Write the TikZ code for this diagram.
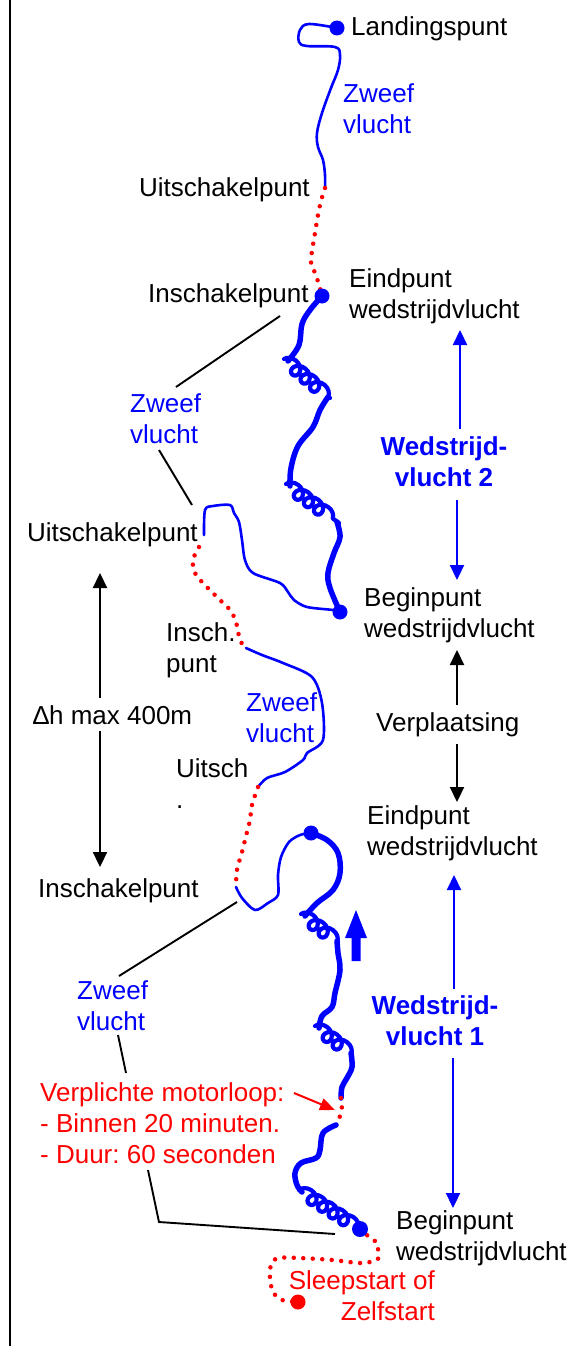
\documentclass[tikz,border=0pt]{standalone}
\usepackage{fontspec}
\setmainfont{Liberation Sans}
\usetikzlibrary{arrows.meta,decorations.pathmorphing}
\frenchspacing
\newcommand\mylinesL[1]{\begin{tabular}[t]{@{}l@{}}#1\end{tabular}}
\newcommand\mylinesC[1]{\begin{tabular}[t]{@{}c@{}}#1\end{tabular}}
\newcommand\mylinesR[1]{\begin{tabular}[t]{@{}r@{}}#1\end{tabular}}
\begin{document}
\begin{tikzpicture}[x=1pt,y=-1pt,
  lab/.style={inner sep=0pt, font=\fontsize{26}{31}\selectfont, anchor=base west},
  blab/.style={lab, text=blue},
  rlab/.style={lab, text=red},
  thinfly/.style={blue, line width=2.6pt, line cap=round, line join=round},
  fly/.style={blue, line width=5.5pt, line cap=round, line join=round},
  coilfly/.style={blue, line width=4.2pt, line cap=round, line join=round, decorate,
    decoration={coil, amplitude=6.5pt, segment length=12.5pt, aspect=1.1}},
  tow/.style={red, line width=4.5pt, line cap=round, dash pattern=on 0pt off 9.5pt},
  leader/.style={black, line width=1.9pt},
  bdot/.style={circle, fill=blue, inner sep=0pt, minimum size=15pt},
  rdot/.style={circle, fill=red, inner sep=0pt, minimum size=15pt},
  karr/.style={black, line width=2.2pt, -{Triangle[length=15pt,width=14pt]}},
  barr/.style={blue, line width=2.2pt, -{Triangle[length=15pt,width=14pt]}},
]
\useasboundingbox (0,0) rectangle (574,1346);
\draw[line width=2.5pt] (10,0) -- (10,1346);

% ---------- dots (positions) ----------
\coordinate (landc) at (337,28);
\coordinate (e2c) at (322,296);
\coordinate (b2c) at (340,612);
\coordinate (e1c) at (311,833);
\coordinate (b1c) at (360,1229);
\coordinate (startc) at (298,1302);

% ---------- top glide ----------
\coordinate (uit1) at (325,188);
\draw[thinfly] plot[smooth, tension=0.6] coordinates {(landc) (309,24) (300,30) (299,42) (307,46) (335,47) (340,55) (338,70) (331,88) (322,113) (317,133) (318,147) (323,160) (325,175) (uit1)};
\draw[tow] plot[smooth, tension=0.6] coordinates {(uit1) (320,205) (315,233) (311,262) (316,275) (e2c)};

% ---------- competition flight 2 ----------
\draw[fly] plot[smooth, tension=0.6] coordinates {(e2c) (310,310) (302,324) (299,345) (288,361)};
\draw[coilfly] (284,359) -- (330,398);
\draw[fly] plot[smooth, tension=0.6] coordinates {(328,397) (320,410) (313,427) (298,446) (291,468) (290,486)};
\draw[coilfly] (286,484) -- (339,523);
\draw[fly] plot[smooth, tension=0.6] coordinates {(337,522) (340,537) (334,553) (328,573) (330,588) (b2c)};

% ---------- middle glide ----------
\coordinate (uit2) at (204,535);
\coordinate (ins2) at (246,648);
\coordinate (uit3) at (258,787);
\coordinate (ins3) at (236,887);
\draw[thinfly] plot[smooth, tension=0.5] coordinates {(uit2) (205,510) (213,506) (230,505) (234,513) (239,522) (242,540) (245,560) (253,573) (280,583) (288,592) (294,600) (307,607) (333,610) (b2c)};
\draw[tow] plot[smooth, tension=0.6] coordinates {(199,547) (193,560) (195,573) (203,583) (220,600) (230,610) (236,622) (240,640) (ins2)};
\draw[thinfly] plot[smooth, tension=0.5] coordinates {(ins2) (262,655) (283,663) (312,677) (322,703) (323,740) (307,753) (303,760) (285,772) (267,778) (uit3)};
\draw[tow] plot[smooth, tension=0.6] coordinates {(uit3) (252,805) (250,820) (246,836) (242,852) (237,870) (ins3)};
\draw[thinfly] plot[smooth, tension=0.5] coordinates {(ins3) (242,898) (255,910) (268,903) (278,895) (278,875) (281,857) (289,842) (300,835) (e1c)};

% ---------- competition flight 1 ----------
\coordinate (mot1) at (341,1098);
\coordinate (mot2) at (336,1125);
\draw[fly] plot[smooth, tension=0.6] coordinates {(e1c) (327,840) (338,853) (340,873) (333,890) (317,903) (305,916)};
\draw[coilfly] (301,914) -- (338,942);
\draw[fly] plot[smooth, tension=0.6] coordinates {(337,941) (338,953) (340,970) (335,993) (332,1007) (322,1016) (319,1028)};
\draw[coilfly] (315,1026) -- (352,1054);
\draw[fly] plot[smooth, tension=0.6] coordinates {(351,1053) (352,1067) (347,1078) (342,1087) (mot1)};
\draw[tow] plot[smooth, tension=0.6] coordinates {(mot1) (342,1106) (340,1116) (mot2)};
\draw[fly] plot[smooth, tension=0.6] coordinates {(mot2) (323,1133) (320,1150) (316,1158) (301,1163) (295,1173) (297,1185) (302,1192)};
\draw[coilfly] (299,1190) -- (b1c);

% ---------- launch ----------
\draw[tow] plot[smooth, tension=0.5] coordinates {(b1c) (368,1236) (377,1243) (378,1252) (377,1260) (360,1263) (333,1260) (300,1258) (278,1258) (271,1265) (270,1278) (273,1292) (282,1300) (startc)};

% dots on top
\node[bdot] (land) at (landc) {};
\node[bdot] (e2) at (e2c) {};
\node[bdot] (b2) at (b2c) {};
\node[bdot] (e1) at (e1c) {};
\node[bdot, minimum size=16pt] (b1) at (b1c) {};
\node[rdot] (start) at (startc) {};

% big direction arrow
\fill[blue] (356,910) -- (367,938) -- (360.5,938) -- (360.5,961) -- (351.5,961) -- (351.5,938) -- (345,938) -- cycle;

% ---------- labels ----------
\node[lab] (tland) at (351,36) {Landingspunt};
\node[blab] (tz1) at (343,102) {\mylinesL{Zweef\\vlucht}};
\node[lab] (tuit1) at (139,196) {Uitschakelpunt};
\node[lab] (tins1) at (148,302) {Inschakelpunt};
\node[lab] (te2) at (349,287) {\mylinesL{Eindpunt\\wedstrijdvlucht}};
\node[blab] (tz2) at (130,412) {\mylinesL{Zweef\\vlucht}};
\node[lab] (tuit2) at (27,541) {Uitschakelpunt};
\node[lab] (tb2) at (364,606) {\mylinesL{Beginpunt\\wedstrijdvlucht}};
\node[lab] (tins2) at (166,641) {\mylinesL{Insch.\\punt}};
\node[blab] (tz3) at (246,711) {\mylinesL{Zweef\\vlucht}};
\node[lab] (tuit3) at (176,777) {\mylinesL{Uitsch\\.}};
\node[lab] (te1) at (367,824) {\mylinesL{Eindpunt\\wedstrijdvlucht}};
\node[lab] (tins3) at (38,897) {Inschakelpunt};
\node[blab] (tz4) at (77,999) {\mylinesL{Zweef\\vlucht}};
\node[rlab] (tmot) at (40,1101) {\mylinesL{Verplichte motorloop:\\- Binnen 20 minuten.\\- Duur: 60 seconden}};
\node[lab] (tb1) at (396,1229) {\mylinesL{Beginpunt\\wedstrijdvlucht}};
\node[rlab, anchor=base east] (tsleep) at (435,1289) {\mylinesR{Sleepstart of\\Zelfstart}};

% arrows with labels
\node[lab, inner ysep=7pt] (tdh) at (33,724) {∆h max 400m};
\coordinate (dhtop) at (100,573);
\coordinate (dhbot) at (100,867);
\draw[karr] (tdh.north -| dhtop) -- (dhtop);
\draw[karr] (tdh.south -| dhbot) -- (dhbot);

\node[lab, inner ysep=7pt] (tverp) at (376,731) {Verplaatsing};
\coordinate (vtop) at (457,650);
\coordinate (vbot) at (457,802);
\draw[karr] (tverp.north -| vtop) -- (vtop);
\draw[karr] (tverp.south -| vbot) -- (vbot);

\node[blab, anchor=base, inner ysep=4pt, font=\fontsize{26}{31}\selectfont\bfseries] (tw2) at (444,455) {\mylinesC{Wedstrijd-\\vlucht 2}};
\coordinate (w2top) at (460,330);
\coordinate (w2bot) at (457,580);
\draw[barr] (tw2.north -| w2top) -- (w2top);
\draw[barr] (tw2.south -| w2bot) -- (w2bot);

\node[blab, anchor=base, inner ysep=3pt, font=\fontsize{26}{31}\selectfont\bfseries] (tw1) at (435,1014) {\mylinesC{Wedstrijd-\\vlucht 1}};
\coordinate (w1top) at (454,875);
\coordinate (w1bot) at (453,1208);
\draw[barr] (tw1.north -| w1top) -- (w1top);
\draw[barr] (tw1.south -| w1bot) -- (w1bot);

% leader lines
\draw[leader] (280,316) -- (176,387);
\draw[leader] (159,450) -- (192,505);
\draw[leader] (237,902) -- (119,976);
\draw[leader] (118,1035) -- (126,1073);
\draw[leader] (148,1170) -- (159,1222) -- (335,1234);

% motor run arrow
\coordinate (motarr) at (335,1110);
\draw[red, line width=2pt, -{Triangle[length=15pt,width=12pt]}] (294,1093) -- (motarr);
\end{tikzpicture}
\end{document}
